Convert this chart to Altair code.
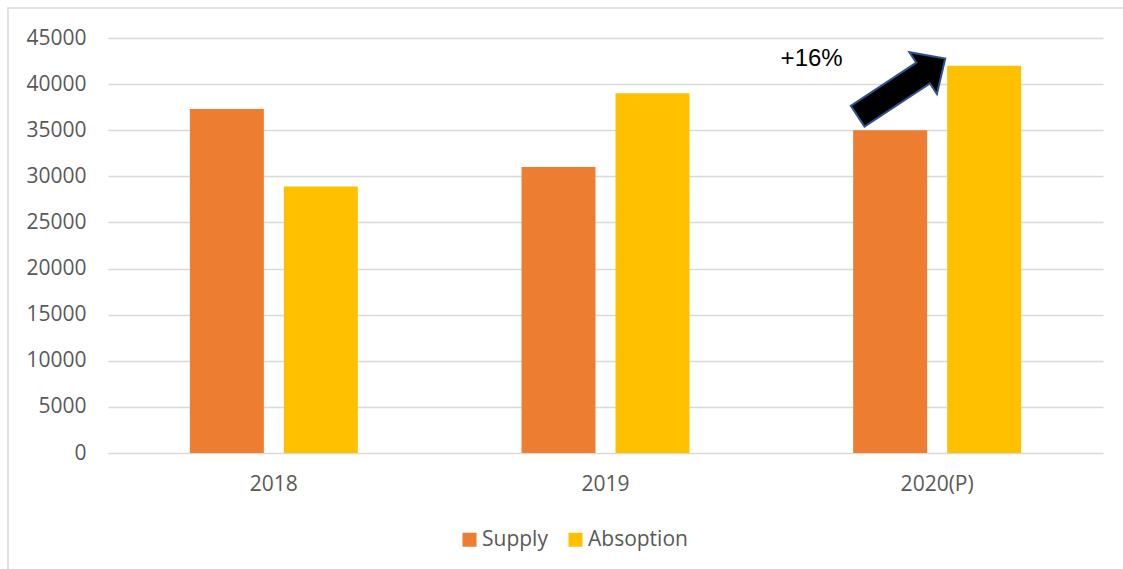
import altair as alt
import pandas as pd

years = ["2018", "2019", "2020(P)"]
supply = [37300, 31000, 35000]
absoption = [28900, 39000, 42000]
series = ["Supply", "Absoption"]
colors = ["#ED7D31", "#FFC000"]
y_ticks = [0, 5000, 10000, 15000, 20000, 25000, 30000, 35000, 40000, 45000]

rows = []
for i, yr in enumerate(years):
    rows.append({"year": yr, "series": "Supply", "value": supply[i]})
    rows.append({"year": yr, "series": "Absoption", "value": absoption[i]})
df = pd.DataFrame(rows)

# annotation: growth arrow and label over the 2020(P) group
ann_year = ["2020(P)"]
ann_label = ["+16%"]
arrow_value = [39650]
label_value = [42700]

FONT = "Open Sans"
GRAY = "#595959"

xscale = alt.Scale(domain=years, paddingInner=0.4935, paddingOuter=0.2468)
yscale = alt.Scale(domain=[0, 45000], nice=False)

bars = alt.Chart(df).mark_bar().encode(
    x=alt.X("year:N", scale=xscale, sort=years,
            axis=alt.Axis(title=None, labelAngle=0, ticks=False, domain=False,
                          labelPadding=20, labelFontSize=21, labelFont=FONT,
                          labelColor=GRAY, grid=False)),
    xOffset=alt.XOffset("series:N", sort=series,
                        scale=alt.Scale(domain=series, paddingInner=0.2128, paddingOuter=0)),
    y=alt.Y("value:Q", scale=yscale,
            axis=alt.Axis(title=None, values=y_ticks, format="d", ticks=False, domain=False,
                          labelPadding=22, labelFontSize=21, labelFont=FONT,
                          labelColor=GRAY, gridColor="#d9d9d9", gridWidth=1.3)),
    color=alt.Color("series:N", sort=series,
                    scale=alt.Scale(domain=series, range=colors),
                    legend=alt.Legend(title=None, orient="none", direction="horizontal",
                                      legendX=351, legendY=491, symbolType="square",
                                      symbolSize=196, symbolStrokeWidth=0,
                                      labelFontSize=21, labelFont=FONT, labelColor=GRAY,
                                      labelOffset=2, columnPadding=17, padding=0)),
)

arrow_path = ("M -0.99 -0.234 L 0.49 -0.234 L 0.49 -0.472 L 0.99 0 "
              "L 0.49 0.472 L 0.49 0.234 L -0.99 0.234 Z")

arrow_df = pd.DataFrame({"year": ann_year, "value": arrow_value})
label_df = pd.DataFrame({"year": ann_year, "value": label_value, "text": ann_label})

arrow = alt.Chart(arrow_df).mark_point(
    shape=arrow_path, size=11236, filled=True, fill="#000000", opacity=1,
    stroke="#2F528F", strokeWidth=2, angle=326.6, xOffset=-35.7
).encode(
    x=alt.X("year:N", scale=xscale, sort=years),
    y=alt.Y("value:Q", scale=yscale),
)

label = alt.Chart(label_df).mark_text(
    font="Liberation Sans", fontSize=24, color="#000000", align="center",
    baseline="middle", dx=-125.5
).encode(
    x=alt.X("year:N", scale=xscale, sort=years),
    y=alt.Y("value:Q", scale=yscale),
    text="text:N",
)

frame = alt.Chart(pd.DataFrame({"k": [0]})).mark_rect(
    fill=None, stroke="#d9d9d9", strokeWidth=1.5
).encode(
    x=alt.value(-100), x2=alt.value(1030), y=alt.value(-30), y2=alt.value(560)
)

chart = alt.layer(frame, bars, arrow, label).properties(
    width=995, height=415,
    autosize=alt.AutoSizeParams(type="none"),
    padding={"left": 108, "top": 38, "right": 20, "bottom": 116},
    background="white",
).configure_view(stroke=None)

chart.save("out.html", embed_options={"renderer": "svg", "actions": False})
